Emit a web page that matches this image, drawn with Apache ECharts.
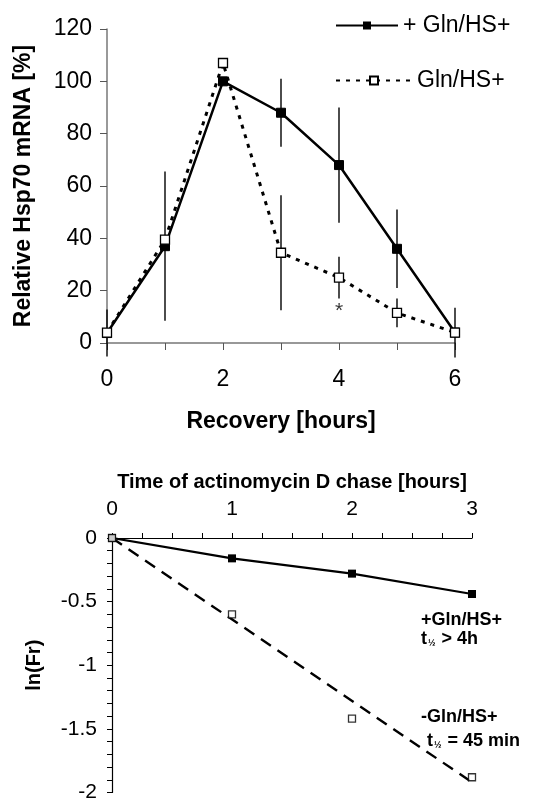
<!DOCTYPE html>
<html><head><meta charset="utf-8">
<script src="https://cdn.jsdelivr.net/npm/echarts@6/dist/echarts.min.js"></script>
<style>html,body{margin:0;padding:0;background:#fff}#c{width:555px;height:803px}</style>
</head><body><div id="c"></div>
<script>
// ---- Top panel data ----
const recoveryHours = [0, 1, 2, 3, 4, 5, 6];
const plusGln = [3.8, 37, 100, 88, 68, 36, 4];
const plusGlnErr = [9, 28.5, 0, 13, 22, 15, 9.5];
const minusGln = [4, 39.5, 107, 34.5, 25, 11.5, 4];
const minusGlnErr = [0, 0, 0, 22, 8, 5.5, 0];
const starPoint = [4, 12];
const topYTicks = [0, 20, 40, 60, 80, 100, 120];
const topXTicks = [0, 2, 4, 6];
// ---- Bottom panel data ----
const chaseHours = [0, 1, 2, 3];
const plusLnFr = [0, -0.16, -0.28, -0.44];
const minusLnFr = [0, -0.6, -1.42, -1.88];
const minusFitX = [0, 3];
const minusFitY = [0, -1.92];
const botXTicks = [0, 1, 2, 3];
const botYTicks = [0, -0.5, -1, -1.5, -2];

const F = 'Liberation Sans, Arial, sans-serif';
const chart = echarts.init(document.getElementById('c'));

function errSeries(name, xs, ys, es, z) {
  return {
    type: 'custom', name: name, xAxisIndex: 0, yAxisIndex: 0, z: z,
    data: xs.map((x, i) => [x, ys[i], es[i]]).filter(d => d[2] > 0),
    renderItem: function (params, api) {
      const x = api.value(0), y = api.value(1), e = api.value(2);
      const p1 = api.coord([x, y - e]);
      const p2 = api.coord([x, y + e]);
      return { type: 'line', shape: { x1: p1[0], y1: p1[1], x2: p2[0], y2: p2[1] },
        style: { stroke: '#000', lineWidth: 1.4 } };
    },
    silent: true
  };
}

const subRich = {
  b: { font: 'bold 18px ' + F, fill: '#000' },
  s: { font: 'bold 9px ' + F, fill: '#000', padding: [9, 1, 0, 1] }
};

const option = {
  backgroundColor: '#fff',
  animation: false,
  textStyle: { fontFamily: F },
  legend: [
    { data: ['+ Gln/HS+'], left: 330, top: 9, itemWidth: 62, itemHeight: 10, itemGap: 5,
      textStyle: { fontSize: 23, color: '#000', fontFamily: F }, selectedMode: false },
    { data: ['Gln/HS+'], left: 330, top: 64, itemWidth: 76, itemHeight: 10, itemGap: 5,
      textStyle: { fontSize: 23, color: '#000', fontFamily: F }, selectedMode: false }
  ],
  grid: [
    { left: 107, width: 348, top: 29, height: 314 },
    { left: 112, width: 360, top: 538, height: 258 }
  ],
  xAxis: [
    { type: 'value', gridIndex: 0, min: 0, max: 6, interval: 2,
      name: 'Recovery [hours]', nameLocation: 'middle', nameGap: 67,
      nameTextStyle: { fontSize: 23, fontWeight: 'bold', color: '#000', fontFamily: F },
      axisLine: { lineStyle: { color: '#777', width: 1.5 } },
      axisTick: { show: true, length: 7, lineStyle: { color: '#555' } },
      minorTick: { show: true, splitNumber: 2, length: 7, lineStyle: { color: '#555' } },
      splitLine: { show: false },
      axisLabel: { fontSize: 23, color: '#000', margin: 25, fontFamily: F,
        formatter: v => topXTicks.includes(v) ? String(v) : '' } },
    { type: 'value', gridIndex: 1, position: 'top', min: 0, max: 3, interval: 1,
      name: 'Time of actinomycin D chase [hours]', nameLocation: 'middle', nameGap: 46,
      nameTextStyle: { fontSize: 20, fontWeight: 'bold', color: '#000', fontFamily: F },
      axisLine: { lineStyle: { color: '#000', width: 1.2 } },
      axisTick: { show: true, length: 5, lineStyle: { color: '#000' } },
      minorTick: { show: true, splitNumber: 4, length: 5, lineStyle: { color: '#000' } },
      splitLine: { show: false },
      axisLabel: { fontSize: 21, color: '#000', margin: 18, fontFamily: F,
        formatter: v => botXTicks.includes(v) ? String(v) : '' } }
  ],
  yAxis: [
    { type: 'value', gridIndex: 0, min: 0, max: 120, interval: 20,
      name: 'Relative Hsp70 mRNA [%]', nameLocation: 'middle', nameGap: 72,
      nameTextStyle: { fontSize: 23, fontWeight: 'bold', color: '#000', fontFamily: F },
      axisLine: { show: true, lineStyle: { color: '#777', width: 1.5 } },
      axisTick: { show: true, length: 7, lineStyle: { color: '#555' } },
      splitLine: { show: false },
      axisLabel: { fontSize: 23, color: '#000', margin: 15, fontFamily: F,
        formatter: v => topYTicks.includes(v) ? String(v) : '' } },
    { type: 'value', gridIndex: 1, min: -2, max: 0, interval: 0.5,
      name: 'ln(Fr)', nameLocation: 'middle', nameGap: 68,
      nameTextStyle: { fontSize: 20, fontWeight: 'bold', color: '#000', fontFamily: F },
      axisLine: { show: true, onZero: false, lineStyle: { color: '#000', width: 1.2 } },
      axisTick: { show: true, length: 5, lineStyle: { color: '#000' } },
      minorTick: { show: true, splitNumber: 5, length: 5, lineStyle: { color: '#000' } },
      splitLine: { show: false },
      axisLabel: { fontSize: 21, color: '#000', margin: 15, fontFamily: F,
        formatter: v => botYTicks.includes(v) ? String(v) : '' } }
  ],
  series: [
    errSeries('errPlus', recoveryHours, plusGln, plusGlnErr, 1),
    errSeries('errMinus', recoveryHours, minusGln, minusGlnErr, 1),
    { name: '+ Gln/HS+', type: 'line', xAxisIndex: 0, yAxisIndex: 0, z: 3,
      data: recoveryHours.map((x, i) => [x, plusGln[i]]),
      symbol: 'rect', symbolSize: 9,
      lineStyle: { color: '#000', width: 2.5 },
      itemStyle: { color: '#000', borderColor: '#000' } },
    { name: 'Gln/HS+', type: 'line', xAxisIndex: 0, yAxisIndex: 0, z: 4,
      data: recoveryHours.map((x, i) => [x, minusGln[i]]),
      symbol: 'rect', symbolSize: 9,
      lineStyle: { color: '#000', width: 3, type: [4, 6] },
      itemStyle: { color: '#fff', borderColor: '#000', borderWidth: 1.3 } },
    { name: 'star', type: 'scatter', xAxisIndex: 0, yAxisIndex: 0, z: 5,
      data: [starPoint], symbolSize: 0,
      label: { show: true, formatter: '*', fontSize: 21, color: '#000', position: 'inside', fontFamily: F } },
    { name: 'plusFit', type: 'line', xAxisIndex: 1, yAxisIndex: 1, z: 3,
      data: chaseHours.map((x, i) => [x, plusLnFr[i]]),
      symbol: 'rect', symbolSize: 8,
      lineStyle: { color: '#000', width: 2.2 },
      itemStyle: { color: '#000' } },
    { name: 'minusFit', type: 'line', xAxisIndex: 1, yAxisIndex: 1, z: 2,
      data: minusFitX.map((x, i) => [x, minusFitY[i]]),
      showSymbol: false, symbol: 'none',
      lineStyle: { color: '#000', width: 2.4, type: [12, 8] } },
    { name: 'minusPts', type: 'scatter', xAxisIndex: 1, yAxisIndex: 1, z: 4,
      data: chaseHours.map((x, i) => [x, minusLnFr[i]]),
      symbol: 'rect', symbolSize: 7,
      itemStyle: { color: '#fff', borderColor: '#000', borderWidth: 1.3 } }
  ],
  graphic: [
    { type: 'text', left: 421, top: 611, style: { text: '+Gln/HS+', font: 'bold 18px ' + F, fill: '#000' } },
    { type: 'text', left: 421, top: 630, style: { text: '{b|t}{s|½}{b| > 4h}', fill: '#000', rich: subRich } },
    { type: 'text', left: 421, top: 708, style: { text: '-Gln/HS+', font: 'bold 18px ' + F, fill: '#000' } },
    { type: 'text', left: 427, top: 732, style: { text: '{b|t}{s|½}{b| = 45 min}', fill: '#000', rich: subRich } }
  ]
};
chart.setOption(option);
</script></body></html>
